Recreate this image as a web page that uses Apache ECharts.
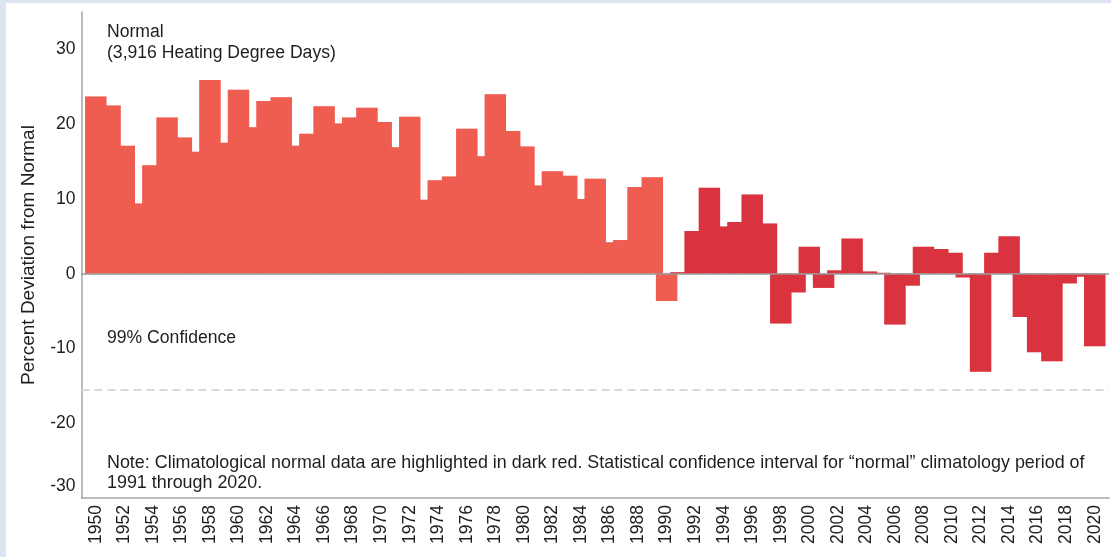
<!DOCTYPE html>
<html>
<head>
<meta charset="utf-8">
<script src="https://cdn.jsdelivr.net/npm/echarts@6/dist/echarts.min.js"></script>
<style>
  html, body { margin: 0; padding: 0; background: #dce3f1; }
  #main { position: absolute; left: 6px; top: 3px; width: 1105px; height: 554px; background: #fff; }
</style>
</head>
<body>
<div id="main"></div>
<script>
// heating degree days, percent deviation from the 1991-2020 normal
var years = [
  1950, 1951, 1952, 1953, 1954, 1955, 1956, 1957, 1958, 1959,
  1960, 1961, 1962, 1963, 1964, 1965, 1966, 1967, 1968, 1969,
  1970, 1971, 1972, 1973, 1974, 1975, 1976, 1977, 1978, 1979,
  1980, 1981, 1982, 1983, 1984, 1985, 1986, 1987, 1988, 1989,
  1990, 1991, 1992, 1993, 1994, 1995, 1996, 1997, 1998, 1999,
  2000, 2001, 2002, 2003, 2004, 2005, 2006, 2007, 2008, 2009,
  2010, 2011, 2012, 2013, 2014, 2015, 2016, 2017, 2018, 2019,
  2020
];
var deviation = [
  23.7, 22.5, 17.1, 9.4, 14.5, 20.9, 18.2, 16.3, 25.9, 17.5,
  24.6, 19.6, 23.1, 23.6, 17.1, 18.7, 22.4, 20.1, 20.9, 22.2,
  20.3, 16.9, 21.0, 9.9, 12.5, 13.0, 19.4, 15.7, 24.0, 19.1,
  17.0, 11.8, 13.7, 13.1, 10.0, 12.7, 4.2, 4.5, 11.6, 12.9,
  -3.65, 0.2, 5.7, 11.5, 6.3, 6.9, 10.6, 6.7, -6.65, -2.5,
  3.6, -1.9, 0.45, 4.7, 0.3, 0.1, -6.8, -1.6, 3.6, 3.3,
  2.8, -0.5, -13.1, 2.8, 5.0, -5.8, -10.5, -11.7, -1.3, -0.4,
  -9.7
];
var normalStart = 1991;     // first year of the climatological normal
var confidence = -15.5;     // 99% confidence level
var yTicks = { min: -30, max: 35, step: 10 };

var FONT = '"Liberation Sans", Arial, sans-serif';
var LIGHT = '#ef5d50';
var DARK = '#da3340';

var barData = years.map(function (y, i) { return [y, deviation[i]]; });
function barColor(p) {
  return years[p.dataIndex] >= normalStart ? DARK : LIGHT;
}

var chart = echarts.init(document.getElementById('main'));
var option = {
  animation: false,
  grid: {
    left: 75.5, right: 2, top: 9, bottom: 59,
    containLabel: false,
    outerBoundsMode: 'none'
  },
  xAxis: {
    type: 'value',
    min: 1949,
    max: 2021,
    interval: 1,
    axisLine: { onZero: false, lineStyle: { color: '#a6a6a6', width: 1.5 } },
    axisTick: { show: false },
    splitLine: { show: false },
    axisLabel: {
      rotate: 90,
      margin: 7,
      fontSize: 17.5,
      fontFamily: FONT,
      color: '#1e1e1e',
      formatter: function (v) {
        var y = Math.round(v);
        return y % 2 === 0 ? String(y) : '';
      }
    }
  },
  yAxis: {
    type: 'value',
    min: yTicks.min,
    max: yTicks.max,
    interval: yTicks.step,
    name: 'Percent Deviation from Normal',
    nameLocation: 'middle',
    nameGap: 43,
    nameTextStyle: { fontSize: 19, fontFamily: FONT, color: '#1e1e1e' },
    axisLine: { show: true, lineStyle: { color: '#a6a6a6', width: 1.5 } },
    axisTick: { show: false },
    splitLine: { show: false },
    axisLabel: {
      showMaxLabel: false,
      margin: 6,
      fontSize: 17.5,
      fontFamily: FONT,
      color: '#1e1e1e',
      formatter: function (v) {
        return v === yTicks.min ? '{low|' + v + '}' : String(v);
      },
      rich: {
        low: { fontSize: 17.5, fontFamily: FONT, color: '#1e1e1e', padding: [0, 0, 24, 0] }
      }
    }
  },
  graphic: [
    {
      type: 'text', left: 101, top: 18.5, silent: true,
      style: { text: 'Normal\n(3,916 Heating Degree Days)', font: '17.6px ' + FONT, fill: '#1e1e1e', lineHeight: 21 }
    },
    {
      type: 'text', left: 101, top: 324.5, silent: true,
      style: { text: '99% Confidence', font: '17.6px ' + FONT, fill: '#1e1e1e', lineHeight: 21 }
    },
    {
      type: 'text', left: 101, top: 450, silent: true,
      style: {
        text: 'Note: Climatological normal data are highlighted in dark red. Statistical confidence interval for \u201cnormal\u201d climatology period of\n1991 through 2020.',
        font: '17.9px ' + FONT, fill: '#1e1e1e', lineHeight: 20
      }
    }
  ],
  series: [
    {
      // outline layer: only the outer half of the border stays visible
      type: 'bar',
      data: barData,
      barWidth: 21.4,
      barGap: '-100%',
      silent: true,
      z: 2,
      itemStyle: { color: barColor, borderColor: '#f7c6c1', borderWidth: 2 }
    },
    {
      type: 'bar',
      data: barData,
      barWidth: 21.4,
      barGap: '-100%',
      silent: true,
      z: 3,
      itemStyle: { color: barColor },
      markLine: {
        silent: true,
        symbol: 'none',
        label: { show: false },
        data: [
          { yAxis: 0, lineStyle: { color: '#999', width: 1.5, type: 'solid' } },
          { yAxis: confidence, lineStyle: { color: '#d9d9d9', width: 2, type: [8, 5] } }
        ]
      }
    }
  ]
};
chart.setOption(option);
</script>
</body>
</html>
